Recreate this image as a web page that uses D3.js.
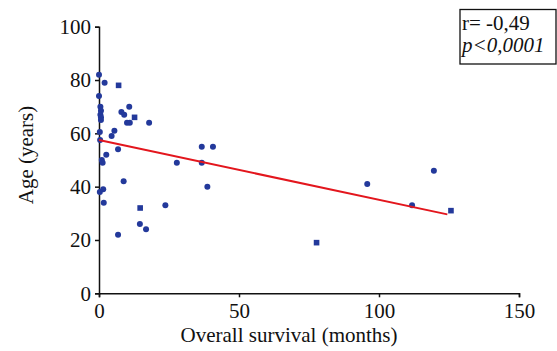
<!DOCTYPE html>
<html lang="en">
<head>
    <meta charset="UTF-8">
    <title>Age vs overall survival</title>
    <script src="https://cdn.jsdelivr.net/npm/d3@7"></script>
    <style>
        body{ margin:0; background:#fff; }
        text{ font-family: "Liberation Serif", "Times New Roman", serif; fill:#111; }
    </style>
</head>
<body>
<div class="container"></div>
<script>
    // data
    const survival = [0,2,7,0,0.5,0.7,0.5,0.7,0.7,0.3,8,9,10.8,10,11,12.7,17.9,5.5,4.5,0.4,6.8,2.6,1,1.3,27.8,36.7,40.7,36.7,8.8,1.5,0.3,1.7,14.7,23.7,14.6,16.8,6.8,38.7,95.8,119.6,111.8,125.7,77.7]
    const age      = [82,79,78,74,70,68.5,67,66,65,60.5,68,67,70,64,64,66,64,61,59,57.5,54,52,50,49,49,55,55,49,42,39,38,34,32,33,26,24,22,40,41,46,33,31,19]
    const squares  = [2,15,32,41,42]   // indexes drawn as squares
    const fitX = [0,124.4]
    const fitY = [57.5,29.6]
    const xTicks = [0,50,100,150]
    const yTicks = [0,20,40,60,80,100]
    const statLines = ["r= -0,49","p<0,0001"]

    const W = 557, H = 351
    const margin = {top:26.7, right:38, bottom:57.7, left:99}
    const serif = '"Liberation Serif", "Times New Roman", serif'
    const svg = d3.select('.container').append('svg')
        .attr('width',W).attr('height',H)

    const x = d3.scaleLinear().domain([0,150]).range([margin.left, W-margin.right])
    const y = d3.scaleLinear().domain([0,100]).range([H-margin.bottom, margin.top])

    // axes
    const xAxis = svg.append('g')
        .attr('transform',`translate(0,${y(0)})`)
        .call(d3.axisBottom(x).tickValues(xTicks).tickSizeOuter(0).tickSize(4).tickPadding(6))
    const yAxis = svg.append('g')
        .attr('transform',`translate(${x(0)},0)`)
        .call(d3.axisLeft(y).tickValues(yTicks).tickSizeOuter(0).tickSize(4).tickPadding(4))
    svg.selectAll('.domain, .tick line').attr('stroke','#111').attr('stroke-width',1.5)
    xAxis.attr('font-family',serif).attr('font-size',21)
    yAxis.attr('font-family',serif).attr('font-size',21)
    svg.selectAll('.tick text')
        .style('font-family',serif).style('font-size','21px').attr('fill','#111')

    // axis titles
    svg.append('text')
        .attr('x',(x(0)+x(150))/2 - 20).attr('y',342)
        .attr('text-anchor','middle').style('font-size','21px')
        .text('Overall survival (months)')
    svg.append('text')
        .attr('transform',`translate(33,155)rotate(-90)`)
        .attr('text-anchor','middle').style('font-size','21px')
        .text('Age (years)')

    // points
    const pts = survival.map((d,i)=>({x:d, y:age[i], sq:squares.includes(i)}))
    svg.append('g').selectAll('circle')
        .data(pts.filter(d=>!d.sq))
        .join('circle')
        .attr('cx',d=>x(d.x)).attr('cy',d=>y(d.y))
        .attr('r',3)
        .attr('fill','#23399b')
    svg.append('g').selectAll('rect')
        .data(pts.filter(d=>d.sq))
        .join('rect')
        .attr('x',d=>x(d.x)-2.8).attr('y',d=>y(d.y)-2.8)
        .attr('width',5.6).attr('height',5.6)
        .attr('fill','#23399b')

    // regression line
    svg.append('path')
        .datum(fitX.map((d,i)=>[d,fitY[i]]))
        .attr('d',d3.line().x(d=>x(d[0])).y(d=>y(d[1])))
        .attr('stroke','#e3161d').attr('stroke-width',2).attr('fill','none')

    // stats box
    const box = svg.append('g')
    box.append('rect')
        .attr('x',460).attr('y',9.5).attr('width',96).attr('height',54.5)
        .attr('fill','#fff').attr('stroke','#111').attr('stroke-width',1.3)
    box.selectAll('text')
        .data(statLines)
        .join('text')
        .attr('x',462).attr('y',(d,i)=>30+i*22)
        .style('font-size','21px')
        .style('font-style',(d,i)=>i===1?'italic':'normal')
        .text(d=>d)
</script>
</body>
</html>
